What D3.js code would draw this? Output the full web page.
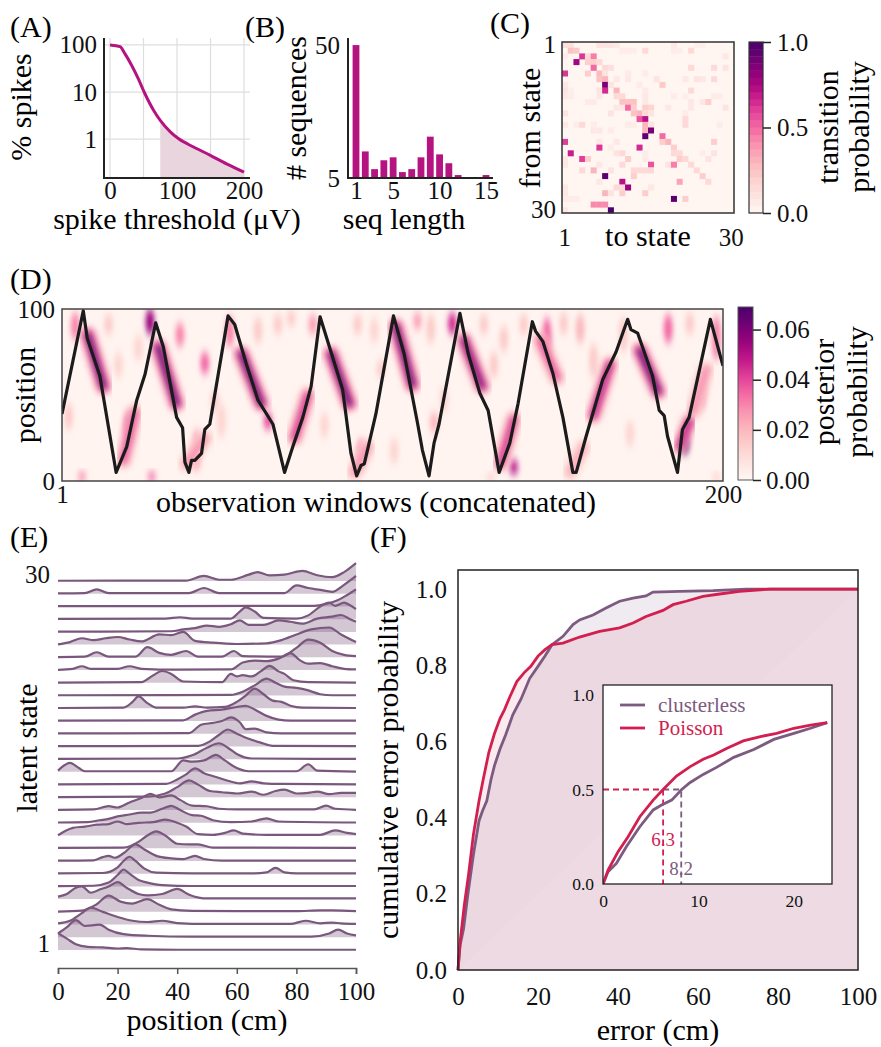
<!DOCTYPE html>
<html>
<head>
<meta charset="utf-8">
<script src="https://cdn.jsdelivr.net/npm/d3@7"></script>
<style>
  body { margin: 0; background: #fff; }
  svg, svg text { font-family: "Liberation Serif", "Tinos", "Noto Serif", "DejaVu Serif", "FreeSerif", "Nimbus Roman", "Times New Roman", Times, serif; }
</style>
</head>
<body>
<svg id="fig" width="881" height="1047"></svg>
<script>
// ---------- (A) spikes above threshold ----------
const threshUV  = [0, 15, 22, 32, 42, 52, 65, 75, 90, 102, 124, 149, 174, 200];
const pctSpikes = [100, 92, 66, 37.5, 19.5, 9.3, 4.1, 2.5, 1.43, 1.03, 0.69, 0.46, 0.30, 0.20];
const shadeFrom = 75;

// ---------- (B) sequence lengths ----------
const seqLen   = [1, 2, 3, 4, 5, 6, 7, 8, 9, 10, 11, 12, 13, 14, 15];
const seqCount = [50, 14, 8, 11, 12, 7, 8, 12, 19, 13, 10, 6, 5, 5, 6];

// ---------- (C) transition matrix, non-empty cells [from, to, p] ----------
const states = d3.range(1, 31);
const transProb = [
  [1,1,0.12],[1,2,0.12],[1,7,0.1],[1,8,0.1],[1,9,0.1],[1,10,0.08],[1,20,0.08],[1,24,0.05],[1,25,0.05],
  [2,2,0.25],[2,3,0.22],[2,11,0.06],[2,12,0.06],[2,13,0.05],[2,15,0.15],[2,20,0.06],[2,21,0.05],[2,23,0.15],
  [3,1,0.06],[3,4,0.62],[3,5,0.15],[3,6,0.45],[3,29,0.08],
  [4,3,0.78],[4,5,0.2],[4,6,0.2],[4,7,0.15],
  [5,6,0.5],[5,8,0.15],[5,9,0.12],[5,23,0.15],[5,27,0.15],[5,29,0.1],
  [6,1,0.62],[6,5,0.2],[6,7,0.28],[6,8,0.1],[6,12,0.07],[6,15,0.06],
  [7,7,0.25],[7,8,0.3],[7,10,0.08],[7,12,0.08],[7,17,0.1],[7,22,0.08],[7,24,0.1],[7,25,0.08],[7,27,0.15],
  [8,1,0.08],[8,8,0.88],[8,9,0.1],[8,14,0.06],[8,18,0.22],
  [9,1,0.1],[9,2,0.05],[9,7,0.1],[9,8,0.65],[9,10,0.3],[9,15,0.07],[9,23,0.15],
  [10,1,0.08],[10,2,0.06],[10,7,0.08],[10,10,0.15],[10,11,0.15],[10,15,0.08],[10,20,0.06],[10,22,0.05],[10,27,0.06],[10,28,0.06],
  [11,5,0.07],[11,6,0.07],[11,11,0.25],[11,12,0.25],[11,13,0.25],[11,15,0.08],[11,23,0.08],[11,25,0.08],[11,26,0.2],
  [12,10,0.08],[12,11,0.08],[12,12,0.5],[12,13,0.2],[12,15,0.2],[12,16,0.18],[12,19,0.08],[12,23,0.08],[12,29,0.1],
  [13,1,0.1],[13,9,0.1],[13,13,0.25],[13,14,0.3],[13,15,0.15],[13,16,0.1],[13,22,0.06],
  [14,14,0.55],[14,15,0.72],[14,22,0.15],
  [15,1,0.08],[15,3,0.06],[15,4,0.15],[15,6,0.06],[15,12,0.06],[15,13,0.06],[15,15,0.3],[15,16,0.1],[15,22,0.15],[15,28,0.06],
  [16,6,0.08],[16,7,0.08],[16,9,0.06],[16,15,0.3],[16,16,0.88],
  [17,15,0.95],[17,18,0.5],
  [18,1,0.6],[18,7,0.08],[18,10,0.08],[18,18,0.2],[18,19,0.3],[18,27,0.2],
  [19,7,0.62],[19,9,0.06],[19,14,0.65],[19,20,0.2],
  [20,2,0.68],[20,10,0.1],[20,11,0.15],[20,15,0.06],[20,20,0.15],[20,21,0.15],[20,25,0.06],[20,27,0.1],
  [21,1,0.08],[21,4,0.6],[21,5,0.2],[21,12,0.2],[21,15,0.06],[21,21,0.2],[21,22,0.15],[21,26,0.1],
  [22,1,0.08],[22,7,0.08],[22,11,0.15],[22,16,0.55],[22,19,0.1],[22,20,0.45],[22,23,0.15],
  [23,4,0.15],[23,6,0.3],[23,9,0.1],[23,13,0.15],[23,14,0.15],[23,15,0.15],[23,16,0.15],[23,24,0.15],
  [24,8,0.95],[24,13,0.2],[24,25,0.2],
  [25,7,0.08],[25,11,0.72],[25,21,0.35],[25,26,0.15],
  [26,1,0.08],[26,10,0.15],[26,11,0.15],[26,12,0.8],[26,16,0.08],
  [27,1,0.08],[27,8,0.3],[27,9,0.1],[27,11,0.2],[27,15,0.2],
  [28,1,0.06],[28,2,0.06],[28,3,0.06],[28,20,0.95],[28,22,0.2],
  [29,6,0.42],[29,7,0.42],[29,8,0.42],
  [30,1,0.08],[30,9,1.0]
];

// ---------- (D) decoded posterior ----------
const trajWin = [1,7.4,8.6,12.4,17.3,20.5,23.5,26,29.2,31.5,35.5,37.3,38,39.2,40,41,43,44,45.5,51,
  53,56.5,60,64.5,68,70.5,73.5,76,78.7,81.5,85.5,88,89.7,91,92,95.5,100.8,104,108,109.5,
  111.5,113,114.5,120.8,123.3,126.8,129.3,132.6,135.8,138.3,142.6,143.6,145.8,148.8,151.8,
  154.8,155.8,158.8,163.8,167.8,171.3,172.3,174.3,178.8,180.8,182.3,183.3,186.3,187.8,189.8,196.2,200];
const trajPos = [39,99,83,61,5,20,47,62,92,78,37,31,11,5,12,12,16,30,33,96,
  91,68,47,33,5,20,37,55,95.5,78,53,16,3,9,10,39,96,74,34,18,
  3,22,33,97.5,74,51,41,5,22,45,92.6,87,81,62.5,37,
  5,5,26,59,75,94,88,86,61,41,38,26,5,30,37,94,67];
// vertical streaks [window, posLow, posHigh, probability]
const postBlobs = [
  [5,82,98,0.03],[15,85,97,0.015],[21,20,40,0.04],[27.5,85,100,0.055],[36.5,78,92,0.03],
  [41.5,6,30,0.025],[44,62,75,0.035],[47,40,52,0.015],[51.5,78,96,0.03],[63,30,40,0.04],
  [66,85,97,0.015],[70,90,99,0.015],[76.5,85,97,0.025],[90,85,97,0.015],[91,8,24,0.03],
  [97,60,70,0.015],[108,88,98,0.025],[112,80,97,0.015],[113,28,40,0.02],[118.5,85,98,0.045],
  [128,85,97,0.015],[131,60,75,0.015],[137,4,12,0.05],[140,85,97,0.015],[147,72,95,0.035],
  [157,80,97,0.02],[170,75,95,0.015],[183.5,80,97,0.035],[188.5,16,28,0.07],[193.5,42,62,0.03],
  [198,70,96,0.03],[7,0,5,0.03],[28,0,5,0.035],[130,0,4,0.015],[198,0,4,0.015],
  [3,30,45,0.015],[18,60,75,0.012],[24,70,85,0.012],[49,25,45,0.012],[60,80,95,0.015],
  [80,25,40,0.012],[95,80,95,0.012],[101,10,25,0.012],[116,40,55,0.012],[134,75,90,0.015],
  [152,85,98,0.015],[161,60,80,0.015],[172,20,35,0.012],[190,85,98,0.015]
];
// smears along the track [winStart, posStart, winEnd, posEnd, probability]
const postSmears = [
  [8.8,85,13.5,55,0.065],[19.5,12,23,40,0.04],[30,78,35.5,45,0.065],[55,74,61,45,0.065],
  [71,25,75,50,0.045],[82,74,87.5,45,0.065],[101.5,90,106.5,56,0.065],[122,82,127.5,55,0.06],
  [133,10,137,36,0.045],[145,82,150,60,0.04],[161,38,166,68,0.05],[175,76,180.5,52,0.065],
  [187,20,190,35,0.05],[191,40,195,65,0.03],[38.5,10,44,25,0.03],[154,5,158,20,0.025],[89,5,93,20,0.03]
];

// ---------- (E) place fields per latent state, [cm, density in row units] ----------
const ridgeRows = [
  [[0,1.33],[3,0.9],[6,0.45],[10,0.25],[15,0.2],[20,0.12],[23,0.15],[28,0.05],[40,0.02],[100,0.02]],
  [[0,0.3],[3,0.8],[6,1.35],[9,0.9],[12,0.95],[14,1.0],[17,0.6],[22,0.25],[30,0.12],[45,0.05],[85,0.05],[91,0.3],[94,0.6],[97,0.3],[100,0.15]],
  [[0,0.1],[4,0.3],[8,0.9],[11,1.33],[15,1.0],[20,0.6],[25,0.3],[30,0.2],[35,0.3],[40,0.12],[50,0.05],[78,0.05],[83,0.3],[88,0.1],[92,0.15],[95,0.1],[100,0.05]],
  [[0,0.02],[8,0.1],[13,0.6],[17,1.28],[21,0.8],[25,0.65],[30,1.0],[34,0.55],[38,0.2],[45,0.08],[60,0.05],[80,0.05],[88,0.12],[92,0.12],[100,0.05]],
  [[0,0.2],[3,0.4],[6,0.9],[8,1.0],[11,0.5],[14,0.75],[17,1.0],[20,1.33],[23,0.9],[27,0.4],[30,0.3],[35,0.4],[40,0.8],[44,0.35],[50,0.05],[100,0.05]],
  [[0,0.02],[12,0.05],[17,0.3],[20,0.9],[22,1.33],[24,1.0],[27,0.5],[30,0.3],[35,0.1],[45,0.03],[100,0.03]],
  [[0,0.02],[15,0.05],[20,0.5],[22,1.0],[24,1.33],[26,1.0],[29,0.4],[33,0.08],[45,0.02],[65,0.02],[70,0.1],[73,0.45],[76,0.1],[80,0.02],[100,0.02]],
  [[0,0.02],[12,0.05],[15,0.3],[17,0.4],[19,0.25],[22,0.6],[26,1.3],[29,0.9],[33,0.4],[38,0.2],[42,0.15],[46,0.4],[49,0.15],[55,0.02],[100,0.02]],
  [[0,0.02],[22,0.05],[27,0.5],[30,1.0],[33,1.33],[36,1.0],[40,0.35],[44,0.3],[47,0.3],[52,0.05],[100,0.02]],
  [[0,0.02],[5,0.6],[9,0.7],[13,0.85],[17,0.9],[20,1.1],[23,0.9],[27,1.0],[32,1.05],[36,1.25],[40,1.0],[43,0.7],[47,0.1],[52,0.05],[56,0.2],[59,0.4],[62,0.15],[70,0.05],[88,0.05],[93,0.4],[97,0.2],[100,0.1]],
  [[0,0.02],[10,0.05],[14,0.2],[17,0.3],[20,0.5],[24,0.65],[28,0.8],[31,0.8],[35,1.1],[38,1.33],[41,1.0],[45,0.6],[48,0.55],[52,0.2],[58,0.05],[65,0.1],[70,0.35],[74,0.1],[100,0.02]],
  [[0,0.02],[12,0.05],[17,0.3],[20,0.2],[24,0.6],[28,0.95],[31,1.28],[34,1.0],[38,1.15],[41,0.8],[45,0.35],[50,0.3],[54,0.1],[60,0.05],[86,0.05],[90,0.35],[93,0.1],[100,0.02]],
  [[0,0.02],[30,0.05],[36,0.3],[40,0.8],[44,1.33],[47,1.0],[51,0.5],[55,0.4],[60,0.3],[65,0.45],[69,0.2],[73,0.5],[76,0.6],[80,0.3],[84,0.35],[87,0.45],[91,0.25],[95,0.35],[100,0.35]],
  [[0,0.02],[36,0.05],[40,0.4],[43,0.8],[46,1.28],[49,0.9],[53,0.6],[57,0.3],[61,0.1],[65,0.25],[69,0.1],[75,0.05],[100,0.02]],
  [[0,0.1],[2,0.5],[4,0.7],[7,0.3],[9,0.05],[38,0.05],[42,0.9],[45,0.8],[49,0.9],[53,1.33],[56,0.9],[60,0.3],[64,0.05],[80,0.05],[84,0.6],[87,0.1],[100,0.02]],
  [[0,0.02],[40,0.05],[45,0.3],[50,0.9],[54,1.25],[57,0.9],[60,0.4],[65,0.05],[100,0.02]],
  [[0,0.02],[47,0.05],[51,0.4],[54,0.9],[57,1.33],[60,1.0],[64,0.6],[68,0.3],[72,0.05],[100,0.02]],
  [[0,0.02],[44,0.05],[48,0.7],[52,0.85],[55,1.0],[58,1.28],[61,0.9],[63,0.35],[66,0.4],[70,0.1],[75,0.02],[100,0.02]],
  [[0,0.02],[42,0.05],[46,0.5],[50,0.8],[55,0.9],[60,1.1],[63,1.2],[66,0.9],[70,0.4],[74,0.1],[78,0.02],[100,0.02]],
  [[0,0.02],[22,0.05],[25,0.5],[27,0.93],[30,0.4],[33,0.05],[42,0.05],[46,0.15],[50,0.05],[56,0.1],[60,0.5],[63,1.0],[66,1.55],[69,1.1],[72,0.6],[75,0.5],[78,0.2],[82,0.05],[100,0.02]],
  [[0,0.02],[58,0.05],[62,0.3],[66,0.8],[70,1.33],[73,1.0],[76,0.7],[80,0.6],[84,0.4],[88,0.1],[92,0.02],[100,0.02]],
  [[0,0.02],[28,0.05],[32,0.6],[35,0.93],[38,0.7],[42,0.1],[55,0.05],[58,0.7],[60,0.5],[62,0.6],[65,0.5],[68,0.9],[71,1.33],[74,0.9],[76,0.7],[79,0.2],[84,0.05],[100,0.02]],
  [[0,0.02],[5,0.1],[8,0.3],[11,0.1],[20,0.1],[24,0.3],[28,0.1],[40,0.03],[58,0.05],[62,0.6],[66,0.75],[70,0.7],[74,0.9],[78,1.33],[81,0.8],[84,0.5],[88,0.55],[92,0.3],[96,0.1],[100,0.05]],
  [[0,0.02],[9,0.05],[13,0.4],[17,0.05],[26,0.05],[30,0.8],[34,0.35],[38,0.2],[43,0.5],[47,0.05],[55,0.05],[59,0.5],[62,0.1],[75,0.05],[80,0.75],[84,1.4],[88,1.15],[92,0.5],[96,0.2],[100,0.1]],
  [[0,0.02],[4,0.2],[8,0.5],[12,0.35],[16,0.5],[20,0.6],[24,0.4],[28,0.25],[34,0.8],[38,0.75],[42,1.0],[46,0.3],[52,0.15],[60,0.05],[70,0.1],[75,0.35],[80,0.8],[85,1.2],[91,1.35],[95,0.8],[100,0.2]],
  [[0,0.02],[38,0.05],[42,0.2],[46,0.3],[50,0.5],[54,0.4],[58,0.6],[61,0.9],[64,0.55],[69,0.55],[74,0.9],[78,0.8],[82,0.65],[87,1.05],[92,1.2],[95,1.33],[98,1.0],[100,0.8]],
  [[0,0.02],[36,0.05],[41,0.15],[45,0.05],[58,0.05],[61,0.6],[63,0.93],[66,0.6],[69,0.1],[80,0.05],[84,0.3],[88,1.0],[91,1.3],[93,1.05],[96,1.3],[98,1.1],[100,0.8]],
  [[0,0.02],[86,0.05],[90,0.2],[94,0.5],[97,0.9],[100,1.35]],
  [[0,0.02],[9,0.05],[13,0.35],[17,0.05],[44,0.05],[49,0.45],[54,0.05],[76,0.05],[80,0.65],[84,0.45],[88,0.3],[92,0.15],[96,0.7],[100,1.4]],
  [[0,0.02],[43,0.03],[49,0.4],[54,0.1],[58,0.1],[64,0.5],[67,0.7],[71,0.45],[76,0.5],[82,0.8],[87,0.45],[92,0.3],[96,0.7],[100,1.4]]
];

// ---------- (F) cumulative decoding error ----------
const errPois = [0,0.53,1.58,2.63,3.86,5.26,6.3,7.7,9.1,10.5,11.6,13,14.7,16.5,18.2,20,21.75,23.5,26.25,30.4,35.4,40.4,43.75,47,51.25,53.75,57,61.25,65.4,70.4,78,100];
const cdfPois = [0,0.074,0.171,0.25,0.356,0.444,0.50,0.571,0.62,0.66,0.683,0.718,0.757,0.78,0.797,0.824,0.841,0.854,0.858,0.874,0.889,0.898,0.911,0.928,0.944,0.959,0.968,0.981,0.987,0.994,1.0,1.0];
const errClus = [0,0.53,1.4,2.46,3.86,5.26,6.14,7.2,8.25,9.1,10.5,11.9,13.7,15.8,17.9,20,21.75,23.5,26.25,28.75,30.4,33.75,37,40.4,43.75,47,48.75,55.4,63.75,72,100];
const cdfClus = [0,0.065,0.109,0.198,0.303,0.392,0.418,0.444,0.50,0.536,0.58,0.617,0.67,0.712,0.765,0.797,0.824,0.854,0.876,0.907,0.919,0.932,0.95,0.968,0.976,0.982,0.992,0.994,0.996,1.0,1.0];
const medianErr = { clusterless: 8.2, Poisson: 6.3 };

// ================= drawing =================
const FONT = "'Liberation Serif', Tinos, 'Noto Serif', 'DejaVu Serif', FreeSerif, 'Nimbus Roman', 'Times New Roman', Times, serif";
const svg = d3.select("#fig").attr("font-family", FONT);
const LBL = 30, TICK = 25;
const magenta = "#b5137f", purple = "#7d5a80", crimson = "#d21f50";
const defs = svg.append("defs");

function text(x, y, s, size, anchor) {
  return svg.append("text").attr("x", x).attr("y", y).attr("font-size", size)
    .attr("font-family", FONT).attr("text-anchor", anchor || "start").text(s);
}
function vtext(x, y, s, size) {
  return svg.append("text").attr("transform", `translate(${x},${y}) rotate(-90)`)
    .attr("font-family", FONT).attr("font-size", size).attr("text-anchor", "middle").text(s);
}
function clean(g, size) {
  g.attr("font-family", FONT).attr("font-size", size);
  g.select(".domain").remove();
  g.selectAll("text").style("fill", "#111");
  return g;
}

// ----- (A) -----
const xA = d3.scaleLinear().domain([0, 200]).range([110, 244]);
const yA = d3.scaleLog().domain([0.15, 140]).range([178, 38]);
const gA = svg.append("g");
gA.selectAll("line.vg").data([0, 50, 100, 150, 200]).join("line").attr("class", "vg")
  .attr("x1", xA).attr("x2", xA).attr("y1", 38).attr("y2", 178).attr("stroke", "#dedede").attr("stroke-width", 1.2);
gA.selectAll("line.hg").data([1, 10, 100]).join("line").attr("class", "hg")
  .attr("x1", 104).attr("x2", 250).attr("y1", yA).attr("y2", yA).attr("stroke", "#dedede").attr("stroke-width", 1.2);
const ptsA = threshUV.map((t, i) => [t, pctSpikes[i]]);
gA.append("path").datum(ptsA.filter(d => d[0] >= shadeFrom))
  .attr("d", d3.area().x(d => xA(d[0])).y0(178).y1(d => yA(d[1])).curve(d3.curveMonotoneX))
  .attr("fill", "#e9d5dd");
gA.append("path").datum(ptsA)
  .attr("d", d3.line().x(d => xA(d[0])).y(d => yA(d[1])).curve(d3.curveMonotoneX))
  .attr("fill", "none").attr("stroke", magenta).attr("stroke-width", 3);
gA.append("path").attr("d", "M104,38V178H250").attr("fill", "none").attr("stroke", "#222").attr("stroke-width", 2);
clean(gA.append("g").attr("transform", "translate(104,0)")
  .call(d3.axisLeft(yA).tickValues([1, 10, 100]).tickFormat(d3.format("d")).tickSize(0).tickPadding(7)), TICK);
clean(gA.append("g").attr("transform", "translate(0,178)")
  .call(d3.axisBottom(xA).tickValues([0, 100, 200]).tickSize(0).tickPadding(3)), TICK);
text(10, 37, "(A)", LBL);
vtext(31, 107, "% spikes", LBL);
text(177, 229, "spike threshold (\u03BCV)", LBL, "middle");

// ----- (B) -----
const xB = d3.scaleLinear().domain([1, 15]).range([356, 486]);
const yB = d3.scaleLinear().domain([5, 52.4]).range([178, 38]);
const gB = svg.append("g");
gB.selectAll("rect").data(seqLen).join("rect")
  .attr("x", d => xB(d) - 3.4).attr("width", 6.8)
  .attr("y", (d, i) => yB(seqCount[i])).attr("height", (d, i) => 178 - yB(seqCount[i]))
  .attr("fill", magenta);
gB.append("path").attr("d", "M348,38V178H493").attr("fill", "none").attr("stroke", "#222").attr("stroke-width", 2);
clean(gB.append("g").attr("transform", "translate(348,0)")
  .call(d3.axisLeft(yB).tickValues([5, 50]).tickSize(0).tickPadding(8)), TICK);
clean(gB.append("g").attr("transform", "translate(0,178)")
  .call(d3.axisBottom(xB).tickValues([1, 5, 10, 15]).tickSize(0).tickPadding(3)), TICK);
text(245, 37, "(B)", LBL);
vtext(306, 108, "# sequences", LBL);
text(404, 229, "seq length", LBL, "middle");

// ----- (C) -----
const xC = d3.scaleBand().domain(states).range([562, 734]);
const yC = d3.scaleBand().domain(states).range([42, 213]);
const colC = d3.scaleSequential(d3.interpolateRdPu).domain([0, 1]);
const gC = svg.append("g");
gC.append("rect").attr("x", 562).attr("y", 42).attr("width", 172).attr("height", 171).attr("fill", colC(0.012));
gC.selectAll("rect.cell").data(transProb).join("rect").attr("class", "cell")
  .attr("x", d => xC(d[1])).attr("y", d => yC(d[0]))
  .attr("width", xC.bandwidth() + 0.3).attr("height", yC.bandwidth() + 0.3)
  .attr("fill", d => colC(d[2]));
gC.append("rect").attr("x", 562).attr("y", 42).attr("width", 172).attr("height", 171)
  .attr("fill", "none").attr("stroke", "#333").attr("stroke-width", 1.5);
clean(gC.append("g").attr("transform", "translate(562,0)")
  .call(d3.axisLeft(yC).tickValues([1, 30]).tickSize(0).tickPadding(6)), TICK);
clean(gC.append("g").attr("transform", "translate(0,213)")
  .call(d3.axisBottom(xC).tickValues([1, 30]).tickSize(0).tickPadding(15)), TICK);
// colour bar
const cbC = d3.scaleLinear().domain([0, 1]).range([213, 42]);
const stepC = 1 / 24;
gC.selectAll("rect.cb").data(d3.range(0, 1 - 1e-9, stepC)).join("rect").attr("class", "cb")
  .attr("x", 749).attr("width", 14).attr("y", d => cbC(d + stepC)).attr("height", cbC(0) - cbC(stepC) + 0.4)
  .attr("fill", d => colC(d + stepC / 2));
gC.append("rect").attr("x", 749).attr("y", 42).attr("width", 14).attr("height", 171)
  .attr("fill", "none").attr("stroke", "#333").attr("stroke-width", 1.2);
const axCb = gC.append("g").attr("transform", "translate(763,0)")
  .call(d3.axisRight(cbC).tickValues([0, 0.5, 1]).tickFormat(d3.format(".1f")).tickSize(8).tickPadding(6));
clean(axCb, TICK); axCb.selectAll("line").attr("stroke", "#222").attr("stroke-width", 1.5);
text(490, 33, "(C)", LBL);
vtext(540, 128, "from state", LBL);
text(648, 246, "to state", LBL, "middle");
vtext(838, 127, "transition", LBL);
vtext(869, 127, "probability", LBL);

// ----- (D) -----
const xD = d3.scaleLinear().domain([1, 200]).range([62, 723]);
const yD = d3.scaleLinear().domain([0, 100]).range([481, 309]);
const colD = d3.scaleSequential(d3.interpolateRdPu).domain([0, 0.069]);
defs.append("clipPath").attr("id", "clipD").append("rect").attr("x", 62).attr("y", 309).attr("width", 661).attr("height", 172);
defs.append("filter").attr("id", "blurV").attr("x", "-100%").attr("y", "-50%").attr("width", "300%").attr("height", "200%")
  .append("feGaussianBlur").attr("stdDeviation", "2.4 5");
defs.append("filter").attr("id", "blurS").attr("x", "-50%").attr("y", "-50%").attr("width", "200%").attr("height", "200%")
  .append("feGaussianBlur").attr("stdDeviation", "3");
const gD = svg.append("g").attr("clip-path", "url(#clipD)");
gD.append("rect").attr("x", 62).attr("y", 309).attr("width", 661).attr("height", 172).attr("fill", colD(0.0012));
gD.selectAll("ellipse").data(postBlobs).join("ellipse")
  .attr("cx", d => xD(d[0])).attr("cy", d => yD((d[1] + d[2]) / 2))
  .attr("rx", 4.5).attr("ry", d => (yD(d[1]) - yD(d[2])) / 2)
  .attr("fill", d => colD(d[3])).attr("filter", "url(#blurV)");
// soft pink halo, then darker core along the track
gD.selectAll("line.halo").data(postSmears).join("line").attr("class", "halo")
  .attr("x1", d => xD(d[0])).attr("y1", d => yD(d[1])).attr("x2", d => xD(d[2])).attr("y2", d => yD(d[3]))
  .attr("stroke", d => colD(d[4] * 0.45)).attr("stroke-width", 16).attr("stroke-linecap", "round")
  .attr("filter", "url(#blurS)");
gD.selectAll("line.smear").data(postSmears).join("line").attr("class", "smear")
  .attr("x1", d => xD(d[0])).attr("y1", d => yD(d[1])).attr("x2", d => xD(d[2])).attr("y2", d => yD(d[3]))
  .attr("stroke", d => colD(d[4])).attr("stroke-width", 6).attr("stroke-linecap", "round")
  .attr("filter", "url(#blurS)");
gD.append("path").datum(trajWin.map((w, i) => [w, trajPos[i]]))
  .attr("d", d3.line().x(d => xD(d[0])).y(d => yD(d[1])))
  .attr("fill", "none").attr("stroke", "#1b1b1b").attr("stroke-width", 3.2).attr("stroke-linejoin", "round");
svg.append("rect").attr("x", 62).attr("y", 309).attr("width", 661).attr("height", 172)
  .attr("fill", "none").attr("stroke", "#444").attr("stroke-width", 1.5);
clean(svg.append("g").attr("transform", "translate(62,0)")
  .call(d3.axisLeft(yD).tickValues([0, 100]).tickSize(0).tickPadding(7)), TICK);
clean(svg.append("g").attr("transform", "translate(0,481)")
  .call(d3.axisBottom(xD).tickValues([1, 200]).tickSize(0).tickPadding(4)), TICK);
// colour bar
const cbD = d3.scaleLinear().domain([0, 0.069]).range([480, 307]);
const grad = defs.append("linearGradient").attr("id", "gradD").attr("x1", 0).attr("y1", 1).attr("x2", 0).attr("y2", 0);
grad.selectAll("stop").data(d3.range(0, 1.0001, 0.1)).join("stop")
  .attr("offset", d => d).attr("stop-color", d => d3.interpolateRdPu(d));
svg.append("rect").attr("x", 738).attr("y", 307).attr("width", 15).attr("height", 173)
  .attr("fill", "url(#gradD)").attr("stroke", "#555").attr("stroke-width", 1);
const axDb = svg.append("g").attr("transform", "translate(753,0)")
  .call(d3.axisRight(cbD).tickValues([0, 0.02, 0.04, 0.06]).tickFormat(d3.format(".2f")).tickSize(8).tickPadding(5));
clean(axDb, TICK); axDb.selectAll("line").attr("stroke", "#222").attr("stroke-width", 1.5);
text(10, 289, "(D)", LBL);
vtext(35, 395, "position", LBL);
text(376, 512, "observation windows (concatenated)", LBL, "middle");
vtext(834, 392, "posterior", LBL);
vtext(867, 392, "probability", LBL);

// ----- (E) -----
const xE = d3.scaleLinear().domain([0, 100]).range([58, 356]);
const yRow = d3.scaleLinear().domain([1, 30]).range([950, 581]);
const rowH = 12.7;
const gE = svg.append("g");
const areaE = d3.area().x(d => xE(d[0])).y0(0).y1(d => -d[1] * rowH).curve(d3.curveMonotoneX);
const lineE = d3.line().x(d => xE(d[0])).y(d => -d[1] * rowH).curve(d3.curveMonotoneX);
const rowsE = gE.selectAll("g.row").data(ridgeRows.map((r, i) => ({ s: i + 1, pts: r })).reverse())
  .join("g").attr("class", "row").attr("transform", d => `translate(0,${yRow(d.s)})`);
rowsE.append("path").attr("d", d => areaE(d.pts)).attr("fill", purple).attr("fill-opacity", 0.34);
rowsE.append("path").attr("d", d => lineE(d.pts)).attr("fill", "none").attr("stroke", "#7a577d").attr("stroke-width", 2.2);
const axE = gE.append("g").attr("transform", "translate(0,968)")
  .call(d3.axisBottom(xE).tickValues([0, 20, 40, 60, 80, 100]).tickSize(6).tickPadding(8));
axE.attr("font-family", FONT).attr("font-size", TICK);
axE.selectAll("text").style("fill", "#111");
axE.select(".domain").attr("stroke", "#555").attr("stroke-width", 1.5);
axE.selectAll("line").attr("stroke", "#555").attr("stroke-width", 1.5);
clean(gE.append("g").attr("transform", "translate(56,-7)")
  .call(d3.axisLeft(yRow).tickValues([1, 30]).tickSize(0).tickPadding(6)), TICK);
text(10, 547, "(E)", LBL);
vtext(37, 748, "latent state", LBL);
text(207, 1030, "position (cm)", LBL, "middle");

// ----- (F) -----
const xF = d3.scaleLinear().domain([0, 100]).range([458, 858]);
const yF = d3.scaleLinear().domain([0, 1.05]).range([970, 570]);
const clus = errClus.map((e, i) => [e, cdfClus[i]]);
const pois = errPois.map((e, i) => [e, cdfPois[i]]);
const gF = svg.append("g");
const areaF = d3.area().x(d => xF(d[0])).y0(yF(0)).y1(d => yF(d[1]));
const lineF = d3.line().x(d => xF(d[0])).y(d => yF(d[1]));
gF.append("path").datum(clus).attr("d", areaF).attr("fill", purple).attr("fill-opacity", 0.12);
gF.append("path").datum(pois).attr("d", areaF).attr("fill", crimson).attr("fill-opacity", 0.09);
gF.append("path").datum([[0, 0], [100, 1], [100, 0]]).attr("d", d3.line().x(d => xF(d[0])).y(d => yF(d[1])))
  .attr("fill", "#fff").attr("fill-opacity", 0.06);
gF.append("path").datum(clus).attr("d", lineF).attr("fill", "none").attr("stroke", purple).attr("stroke-width", 2.8);
gF.append("path").datum(pois).attr("d", lineF).attr("fill", "none").attr("stroke", crimson).attr("stroke-width", 2.8);
gF.append("rect").attr("x", 458).attr("y", 570).attr("width", 400).attr("height", 400)
  .attr("fill", "none").attr("stroke", "#222").attr("stroke-width", 1.5);
clean(gF.append("g").attr("transform", "translate(458,0)")
  .call(d3.axisLeft(yF).tickValues([0, 0.2, 0.4, 0.6, 0.8, 1.0]).tickFormat(d3.format(".1f")).tickSize(0).tickPadding(11)), TICK);
clean(gF.append("g").attr("transform", "translate(0,970)")
  .call(d3.axisBottom(xF).tickValues([0, 20, 40, 60, 80, 100]).tickSize(0).tickPadding(17)), TICK);
text(370, 547, "(F)", LBL);
vtext(398, 770, "cumulative error probability", LBL);
text(658, 1040, "error (cm)", LBL, "middle");

// inset
const xI = d3.scaleLinear().domain([0, 24]).range([603, 832]);
const yI = d3.scaleLinear().domain([0, 1.053]).range([884, 685]);
defs.append("clipPath").attr("id", "clipI").append("rect").attr("x", 603).attr("y", 685).attr("width", 229).attr("height", 199);
const gI = svg.append("g");
gI.append("rect").attr("x", 603).attr("y", 685).attr("width", 229).attr("height", 199).attr("fill", "#fff");
const lineI = d3.line().x(d => xI(d[0])).y(d => yI(d[1]));
const gIc = gI.append("g").attr("clip-path", "url(#clipI)");
// median guides
const mP = medianErr.Poisson, mC = medianErr.clusterless;
gIc.append("path").attr("d", `M${xI(0)},${yI(0.5)}H${xI(mP)}V${yI(0)}`)
  .attr("fill", "none").attr("stroke", crimson).attr("stroke-width", 1.8).attr("stroke-dasharray", "6,4");
gIc.append("path").attr("d", `M${xI(mP)},${yI(0.5)}H${xI(mC)}V${yI(0)}`)
  .attr("fill", "none").attr("stroke", purple).attr("stroke-width", 1.8).attr("stroke-dasharray", "6,4");
gIc.append("path").datum(clus.filter(d => d[0] <= 23.6)).attr("d", lineI).attr("fill", "none").attr("stroke", purple).attr("stroke-width", 2.8);
gIc.append("path").datum(pois.filter(d => d[0] <= 23.6)).attr("d", lineI).attr("fill", "none").attr("stroke", crimson).attr("stroke-width", 2.8);
gI.append("text").attr("x", xI(mP)).attr("y", yI(0.2)).attr("font-size", 19).attr("text-anchor", "middle")
  .attr("font-family", FONT).style("fill", crimson).text(mP.toFixed(1));
gI.append("text").attr("x", xI(mC)).attr("y", yI(0.045)).attr("font-size", 19).attr("text-anchor", "middle")
  .attr("font-family", FONT).style("fill", purple).text(mC.toFixed(1));
gI.append("rect").attr("x", 603).attr("y", 685).attr("width", 229).attr("height", 199)
  .attr("fill", "none").attr("stroke", "#222").attr("stroke-width", 1.3);
clean(gI.append("g").attr("transform", "translate(603,0)")
  .call(d3.axisLeft(yI).tickValues([0, 0.5, 1.0]).tickFormat(d3.format(".1f")).tickSize(0).tickPadding(9)), 17.5);
clean(gI.append("g").attr("transform", "translate(0,884)")
  .call(d3.axisBottom(xI).tickValues([0, 10, 20]).tickSize(0).tickPadding(11)), 17.5);
// legend
const legend = [["clusterless", purple], ["Poisson", crimson]];
const gL = gI.selectAll("g.leg").data(legend).join("g").attr("class", "leg")
  .attr("transform", (d, i) => `translate(620,${705 + i * 23})`);
gL.append("line").attr("x1", 0).attr("x2", 25).attr("stroke", d => d[1]).attr("stroke-width", 2.8);
gL.append("text").attr("x", 38).attr("y", 7).attr("font-size", 21).attr("font-family", FONT)
  .style("fill", d => d[1]).text(d => d[0]);
</script>
</body>
</html>
